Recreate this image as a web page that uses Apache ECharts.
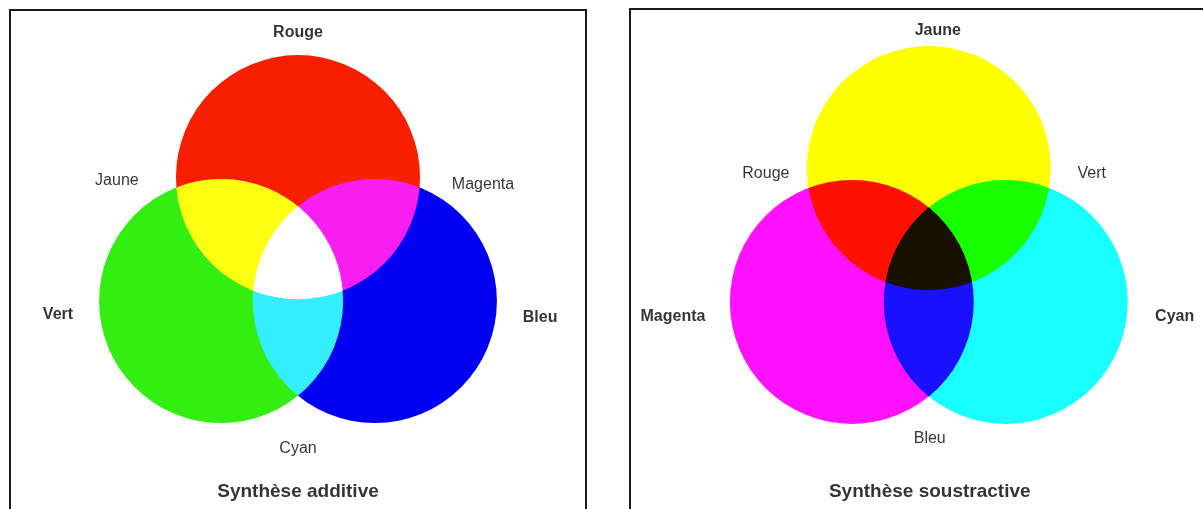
<!DOCTYPE html>
<html>
<head>
<meta charset="utf-8">
<title>Synthèse additive / soustractive</title>
<script src="https://cdn.jsdelivr.net/npm/echarts@6/dist/echarts.min.js"></script>
<style>
  html, body { margin: 0; padding: 0; background: #fff; }
  #chart { width: 1203px; height: 509px; }
</style>
</head>
<body>
<div id="chart"></div>
<script>
// unités : 1 = rayon d'un disque
// synthèse additive
const addNames = ['Rouge', 'Vert', 'Bleu']
const addX = [0, -0.63, 0.63]
const addY = [0.67, -0.345, -0.345]
const addLabelX = [0, -1.967, 1.984]
const addLabelY = [1.855, -0.455, -0.48]
const addMixNames = ['Jaune', 'Magenta', 'Cyan']
const addMixX = [-1.484, 1.516, 0]
const addMixY = [0.642, 0.61, -1.555]

// synthèse soustractive
const subNames = ['Jaune', 'Magenta', 'Cyan']
const subX = [0, -0.631, 0.631]
const subY = [0.746, -0.352, -0.352]
const subLabelX = [0.074, -2.098, 2.016]
const subLabelY = [1.872, -0.472, -0.472]
const subMixNames = ['Rouge', 'Vert', 'Bleu']
const subMixX = [-1.336, 1.336, 0.008]
const subMixY = [0.7, 0.7, -1.47]

const captions = ['Synthèse additive', 'Synthèse soustractive']
const captionY = -1.905

const addColors = ['#f81e00', '#33ee11', '#0000f2']
const subColors = ['#ffff00', '#ff10ff', '#18ffff']

const font = '"Liberation Sans", Helvetica, Arial, sans-serif'

function circles(xs, ys, colors, blend, idx) {
  return {
    type: 'custom',
    xAxisIndex: idx,
    yAxisIndex: idx,
    silent: true,
    clip: false,
    blendMode: blend,
    data: xs.map((x, i) => [x, ys[i]]),
    renderItem(params, api) {
      const c = api.coord([api.value(0), api.value(1)])
      const r = api.size([1, 0])[0]
      return {
        type: 'circle',
        shape: { cx: c[0], cy: c[1], r },
        style: { fill: colors[params.dataIndex] }
      }
    }
  }
}

function labels(names, xs, ys, weight, size, idx) {
  return {
    type: 'scatter',
    xAxisIndex: idx,
    yAxisIndex: idx,
    silent: true,
    symbolSize: 0,
    data: names.map((n, i) => ({ name: n, value: [xs[i], ys[i]] })),
    label: {
      show: true,
      position: 'inside',
      formatter: '{b}',
      color: '#000',
      fontFamily: font,
      fontWeight: weight,
      fontSize: size
    }
  }
}

const chart = echarts.init(document.getElementById('chart'))
chart.setOption({
  animation: false,
  grid: [
    { left: 10, top: 10, width: 576, height: 510, show: true, borderColor: '#1a1a1a', borderWidth: 2, outerBoundsMode: 'none' },
    { left: 630, top: 9, width: 600, height: 520, show: true, borderColor: '#1a1a1a', borderWidth: 2, outerBoundsMode: 'none' }
  ],
  xAxis: [
    { gridIndex: 0, type: 'value', min: -2.36, max: 2.36, show: false },
    { gridIndex: 1, type: 'value', min: -2.45, max: 2.47, show: false }
  ],
  yAxis: [
    { gridIndex: 0, type: 'value', min: -2.14, max: 2.04, show: false },
    { gridIndex: 1, type: 'value', min: -2.214, max: 2.05, show: false }
  ],
  series: [
    circles(addX, addY, addColors, 'lighter', 0),
    circles(subX, subY, subColors, 'multiply', 1),
    labels(addNames, addLabelX, addLabelY, 'bold', 16, 0),
    labels(addMixNames, addMixX, addMixY, 'normal', 16, 0),
    labels(subNames, subLabelX, subLabelY, 'bold', 16, 1),
    labels(subMixNames, subMixX, subMixY, 'normal', 16, 1),
    labels([captions[0]], [0], [captionY], 'bold', 19, 0),
    labels([captions[1]], [0.008], [captionY], 'bold', 19, 1)
  ]
})
</script>
</body>
</html>
